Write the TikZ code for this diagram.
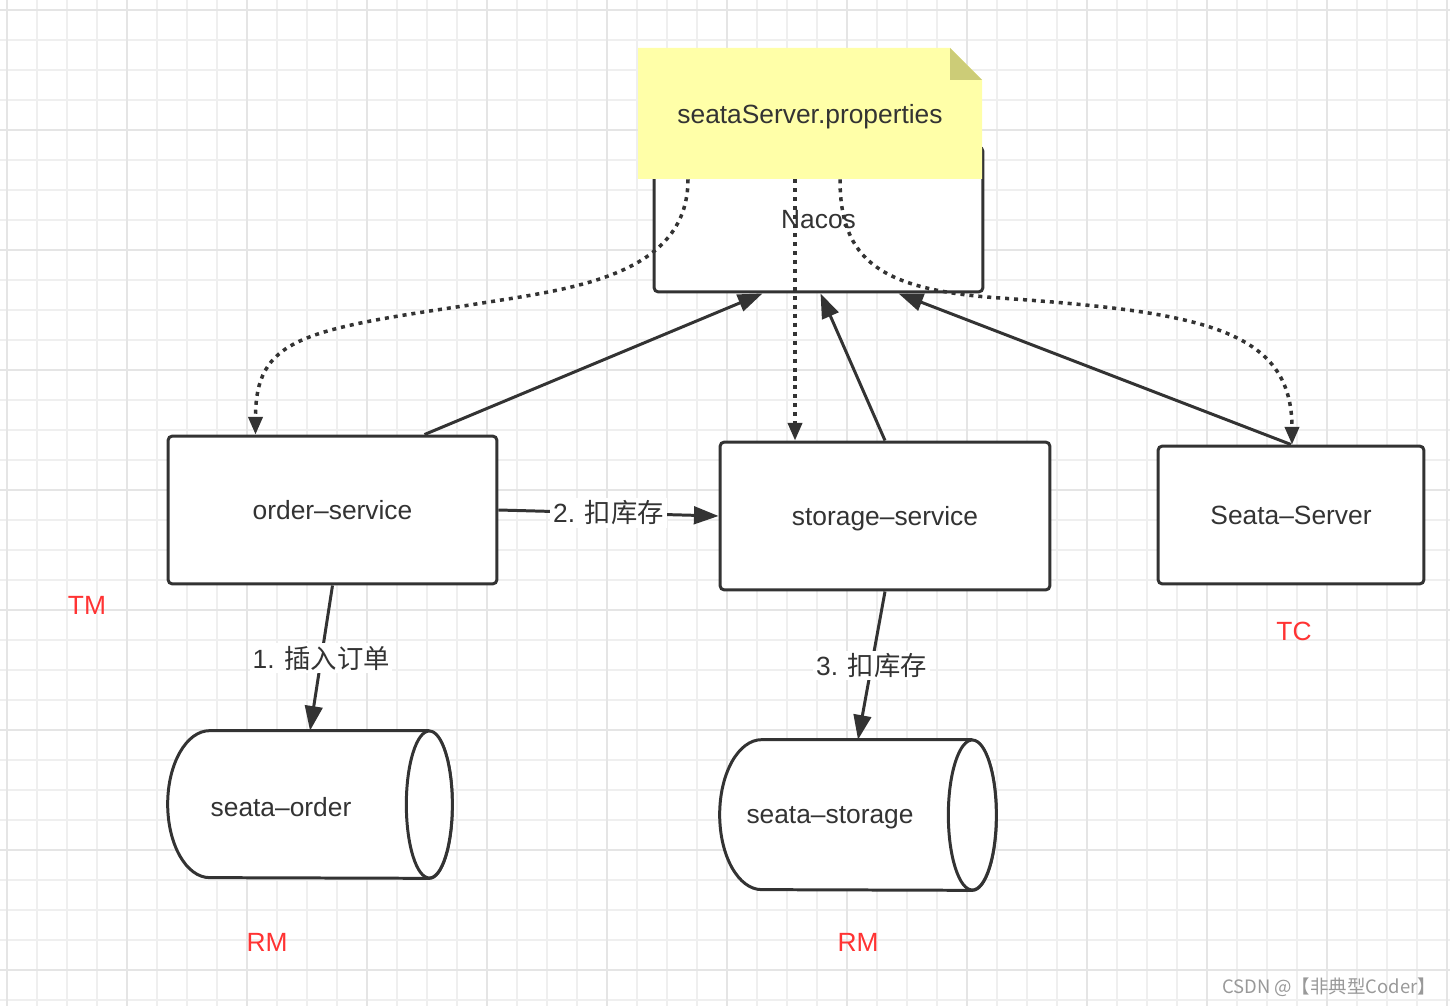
\documentclass[tikz,border=0pt]{standalone}
\usepackage{fontspec}
\setmainfont{Liberation Sans}
\newfontfamily\cjk{Noto Sans CJK SC}
\usetikzlibrary{arrows.meta, calc}
\definecolor{ink}{HTML}{333333}
\definecolor{notefill}{HTML}{FFFFA8}
\definecolor{notefold}{HTML}{CCCC77}
\definecolor{tagred}{HTML}{FF3333}
\definecolor{gridminor}{HTML}{EFEFEF}
\definecolor{gridmajor}{HTML}{E5E5E5}
\tikzset{
  box/.style={draw=ink, line width=1.7pt, rounded corners=2.5pt, fill=white, text=ink, text depth=0pt, font=\fontsize{15}{18}\selectfont},
  dbbody/.style={inner sep=0pt},
  dbtext/.style={text=ink, text depth=0pt, font=\fontsize{15}{18}\selectfont},
  cyl/.style={draw=ink, line width=1.7pt, fill=white},
  notetxt/.style={text=ink, text depth=0pt, font=\fontsize{15}{18}\selectfont, minimum width=6.88cm, minimum height=2.62cm},
  arr/.style={-{Triangle[length=14pt, width=10pt]}, line width=1.7pt, draw=ink},
  cfg/.style={-{Triangle[length=10pt, width=8pt]}, line width=2pt, draw=ink, dash pattern=on 2.3pt off 2.8pt},
  lbl/.style={fill=white, text=ink, inner sep=1.5pt, font=\fontsize{15}{18}\selectfont},
  tag/.style={text=tagred, font=\fontsize{15}{18}\selectfont},
}
\begin{document}
\begin{tikzpicture}[x=0.02cm, y=-0.02cm]
    \useasboundingbox (0,0) rectangle (1450,1006);
    \fill[white] (0,0) rectangle (1450,1006);
    \foreach \k in {0,...,48} \draw[gridminor, line width=1pt] (6.7+30*\k,0) -- (6.7+30*\k,1006);
    \foreach \k in {0,...,33} \draw[gridminor, line width=1pt] (0,10+30*\k) -- (1450,10+30*\k);
    \foreach \k in {0,4,...,48} \draw[gridmajor, line width=1pt] (6.7+30*\k,0) -- (6.7+30*\k,1006);
    \foreach \k in {0,4,...,32} \draw[gridmajor, line width=1pt] (0,10+30*\k) -- (1450,10+30*\k);

    \node[box, minimum width=6.58cm, minimum height=2.9cm] (nacos) at (818.5,219.5) {Nacos};
    \fill[notefill] (638,48) -- (950,48) -- (982,80) -- (982,179) -- (638,179) -- cycle;
    \fill[notefold] (950,48) -- (950,80) -- (982,80) -- cycle;
    \node[notetxt] (note) at (810,113.5) {seataServer.properties};

    \node[box, minimum width=6.58cm, minimum height=2.96cm] (order) at (332.5,510) {order–service};
    \node[box, minimum width=6.6cm, minimum height=2.96cm] (storage) at (885,516) {storage–service};
    \node[box, minimum width=5.32cm, minimum height=2.76cm] (seata) at (1291,515) {Seata–Server};

    \node[dbbody, minimum width=5.68cm, minimum height=2.94cm] (sorder) at (310,804.5) {};
    \draw[cyl] ([xshift=-0.46cm]sorder.north east) -- ([xshift=0.84cm]sorder.north west)
      arc[start angle=90, end angle=270, x radius=0.84cm, y radius=1.47cm]
      -- ([xshift=-0.46cm]sorder.south east)
      arc[start angle=-90, end angle=90, x radius=0.46cm, y radius=1.47cm];
    \draw[cyl] ([xshift=-0.46cm]sorder.east) ellipse[x radius=0.46cm, y radius=1.47cm];
    \node[dbtext] (sordertxt) at ([xshift=-0.58cm, yshift=-0.04cm]sorder.center) {seata–order};

    \node[dbbody, minimum width=5.52cm, minimum height=3cm] (sstorage) at (858,815) {};
    \draw[cyl] ([xshift=-0.48cm]sstorage.north east) -- ([xshift=0.84cm]sstorage.north west)
      arc[start angle=90, end angle=270, x radius=0.84cm, y radius=1.5cm]
      -- ([xshift=-0.48cm]sstorage.south east)
      arc[start angle=-90, end angle=90, x radius=0.48cm, y radius=1.5cm];
    \draw[cyl] ([xshift=-0.48cm]sstorage.east) ellipse[x radius=0.48cm, y radius=1.5cm];
    \node[dbtext] (sstoragetxt) at ([xshift=-0.56cm]sstorage.center) {seata–storage};

    \draw[arr] ($(order.north)+(92,0)$) -- ($(nacos.south)+(-56,0)$);
    \draw[arr] (storage.north) -- ($(nacos.south)+(2,0)$);
    \draw[arr] (seata.north) -- ($(nacos.south)+(80,0)$);

    \draw[cfg] ($(note.south)+(-122,0)$) .. controls (688,280) and (560,290) .. (470,305)
      .. controls (300,330) and ($(order.north)+(-77,-95)$) .. ($(order.north)+(-77,0)$);
    \draw[cfg] ($(note.south)+(-15,0)$) -- ($(storage.north)+(-90,0)$);
    \draw[cfg] ($(note.south)+(30,0)$) .. controls (840,260) and (880,290) .. (1000,298)
      .. controls (1200,312) and ($(seata.north)+(1,-116)$) .. ($(seata.north)+(1,0)$);

    \draw[arr] (order.east) -- node[lbl] {2. {\cjk 扣库存}} (storage.west);
    \draw[arr] (order.south) -- node[lbl] {1. {\cjk 插入订单}} (sorder.north);
    \draw[arr] (storage.south) -- node[lbl] {3. {\cjk 扣库存}} (sstorage.north);

    \node[tag] (tm) at (87,605) {TM};
    \node[tag] (tc) at (1294,631) {TC};
    \node[tag] (rm1) at (267,942) {RM};
    \node[tag] (rm2) at (858,942) {RM};
    \node[text=black!40, font=\cjk\fontsize{10.5}{12}\selectfont] (mark) at (1329,987) {CSDN @【非典型Coder】};
  \end{tikzpicture}
\end{document}
